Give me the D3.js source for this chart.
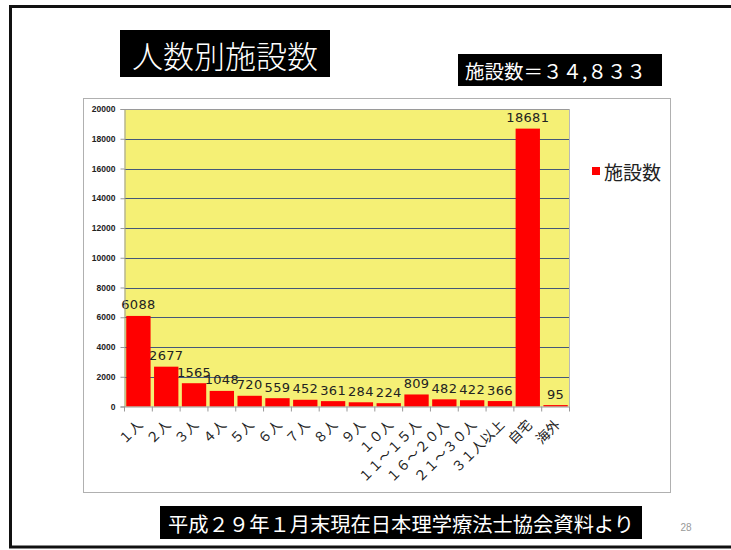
<!DOCTYPE html>
<html><head><meta charset="utf-8">
<script src="https://cdn.jsdelivr.net/npm/d3@7"></script>
<style>html,body{margin:0;padding:0;background:#fff;}svg{display:block;}</style>
</head><body>
<script>
const categories = ["１人","２人","３人","４人","５人","６人","７人","８人","９人","１０人","１１～１５人","１６～２０人","２１～３０人","３１人以上","自宅","海外"];
const values = [6088,2677,1565,1048,720,559,452,361,284,224,809,482,422,366,18681,95];
const yTicks = [0,2000,4000,6000,8000,10000,12000,14000,16000,18000,20000];
const seriesName = "施設数";
const titleText = "人数別施設数";
const totalText = "施設数＝３４,８３３";
const sourceText = "平成２９年１月末現在日本理学療法士協会資料より";
const pageNo = "28";

const W = 731, H = 550;
const cjk = "'Noto Sans CJK JP','Noto Sans CJK SC',sans-serif";
const svg = d3.select("body").append("svg").attr("width", W).attr("height", H);

// slide frame
svg.append("rect").attr("x", 10.5).attr("y", 6.5).attr("width", 760).attr("height", 540.5)
  .attr("fill", "none").attr("stroke", "#111").attr("stroke-width", 3);

// title
svg.append("rect").attr("x", 120).attr("y", 30).attr("width", 210).attr("height", 47).attr("fill", "#000");
svg.append("text").attr("x", 225).attr("y", 54).attr("text-anchor", "middle").attr("dominant-baseline", "central")
  .attr("fill", "#fff").style("font-family", cjk).style("font-size", "31px").style("font-weight", 300).text(titleText);

// total box
svg.append("rect").attr("x", 458).attr("y", 54).attr("width", 204).attr("height", 32).attr("fill", "#000");
svg.append("text").attr("x", 465).attr("y", 70.5).attr("dominant-baseline", "central")
  .attr("fill", "#fff").style("font-family", cjk).style("font-size", "19.5px").text(totalText);

// chart border
svg.append("rect").attr("x", 83.5).attr("y", 98.5).attr("width", 587).attr("height", 394)
  .attr("fill", "#fff").attr("stroke", "#b0b0b0").attr("stroke-width", 1);

const x0 = 124.5, x1 = 569.5, y0 = 406.5, y1 = 109;
const x = d3.scaleBand().domain(categories).range([x0, x1]).paddingInner(0.125).paddingOuter(0.0625);
const y = d3.scaleLinear().domain([0, 20000]).range([y0, y1]);

// plot background
svg.append("rect").attr("x", x0).attr("y", y1).attr("width", x1 - x0).attr("height", y0 - y1).attr("fill", "#F5F075");

// gridlines
svg.append("g").selectAll("line").data(yTicks.filter(d => d > 0)).join("line")
  .attr("x1", x0).attr("x2", x1)
  .attr("y1", d => Math.round(y(d)) + 0.5).attr("y2", d => Math.round(y(d)) + 0.5)
  .attr("stroke", d => d === 20000 ? "#9a9a9a" : "#44577a").attr("stroke-width", 1);

// right border of plot
svg.append("line").attr("x1", x1).attr("x2", x1).attr("y1", y1).attr("y2", y0).attr("stroke", "#b8b8b8");

// bars
svg.append("g").selectAll("rect").data(values).join("rect")
  .attr("x", (d, i) => x(categories[i])).attr("width", x.bandwidth())
  .attr("y", d => y(d)).attr("height", d => y0 - y(d)).attr("fill", "#FF0000");

// value labels
svg.append("g").selectAll("text").data(values).join("text")
  .attr("x", (d, i) => x(categories[i]) + x.bandwidth() / 2)
  .attr("y", d => y(d) - 6.5).attr("text-anchor", "middle")
  .attr("fill", "#222").style("font-family", "'DejaVu Sans',sans-serif").style("font-size", "13px")
  .style("letter-spacing", "0.3px").text(d => d);

// y axis
const yAxis = svg.append("g").attr("transform", `translate(${x0},0)`)
  .call(d3.axisLeft(y).tickValues(yTicks).tickSize(4).tickPadding(5).tickFormat(d3.format("d")));
yAxis.select(".domain").attr("stroke", "#999");
yAxis.selectAll(".tick line").attr("stroke", "#999");
yAxis.selectAll(".tick text").attr("fill", "#222").style("font-family", "'Liberation Sans',Arial,sans-serif")
  .style("font-size", "8.5px").style("font-weight", "bold");

// x axis
const step = x.step();
const bounds = categories.map(c => x(c) - step * x.paddingInner() / 2).concat([x1]);
const xg = svg.append("g");
xg.append("line").attr("x1", x0).attr("x2", x1).attr("y1", y0 + 0.5).attr("y2", y0 + 0.5).attr("stroke", "#999");
xg.selectAll("line.t").data(bounds).join("line").attr("class", "t")
  .attr("x1", d => d).attr("x2", d => d).attr("y1", y0).attr("y2", y0 + 5).attr("stroke", "#999");
xg.selectAll("text").data(categories).join("text")
  .attr("transform", d => `translate(${x(d) + x.bandwidth() / 2 + 1},${y0 + 15}) rotate(-45)`)
  .attr("text-anchor", "end").attr("dominant-baseline", "central")
  .attr("fill", "#222").style("font-family", cjk).style("font-size", "13.5px").text(d => d);

// legend
svg.append("rect").attr("x", 592).attr("y", 167).attr("width", 8).attr("height", 8).attr("fill", "#FF0000");
svg.append("text").attr("x", 604).attr("y", 171.5).attr("dominant-baseline", "central")
  .attr("fill", "#222").style("font-family", cjk).style("font-size", "19px").text(seriesName);

// footer
svg.append("rect").attr("x", 160).attr("y", 506).attr("width", 482).attr("height", 33).attr("fill", "#000");
svg.append("text").attr("x", 168).attr("y", 522.5).attr("dominant-baseline", "central")
  .attr("fill", "#fff").style("font-family", cjk).style("font-size", "20.3px").text(sourceText);

svg.append("text").attr("x", 686).attr("y", 527).attr("text-anchor", "middle").attr("dominant-baseline", "central")
  .attr("fill", "#999").style("font-family", "'Liberation Sans',Arial,sans-serif").style("font-size", "10px").text(pageNo);
</script>
</body></html>
